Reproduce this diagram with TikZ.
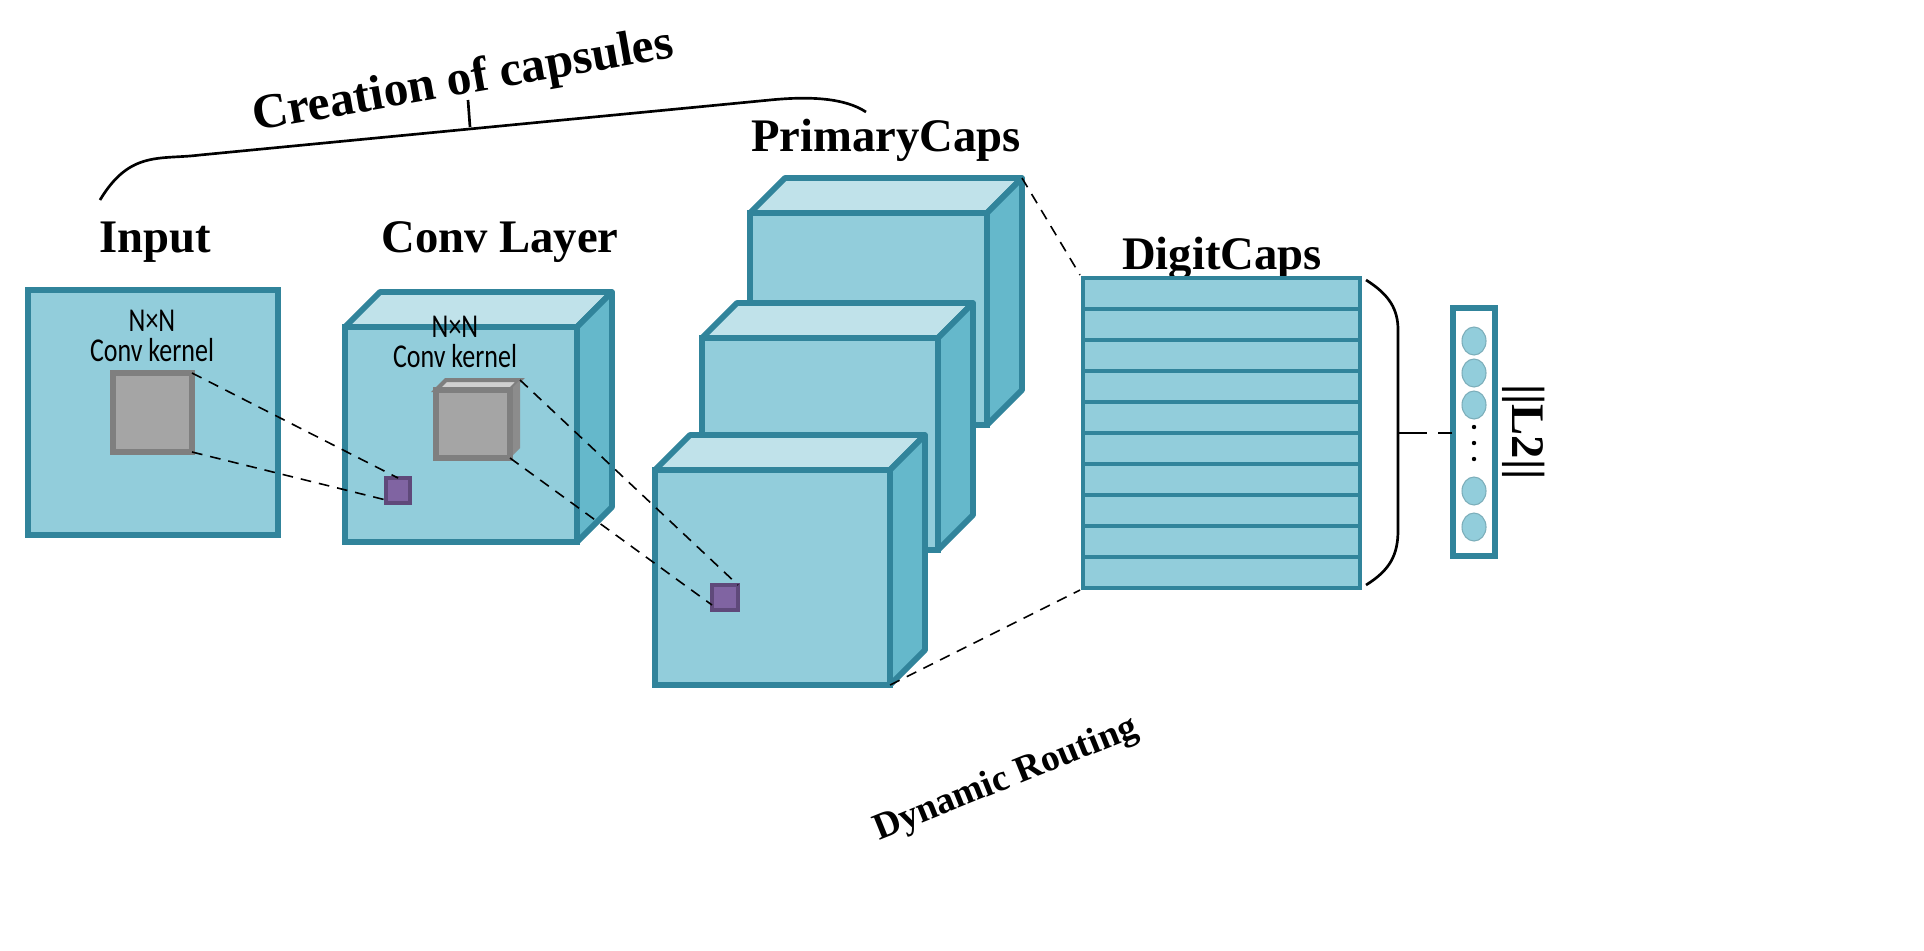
\documentclass[tikz,border=0pt]{standalone}
\usepackage{fontspec}
\setmainfont{Liberation Serif}
\newfontfamily\kfont{Carlito}
\definecolor{cf}{HTML}{92CDDB}
\definecolor{cb}{HTML}{31849B}
\definecolor{ct}{HTML}{C0E2EA}
\definecolor{cs}{HTML}{65B8CB}
\definecolor{gf}{HTML}{A5A5A5}
\definecolor{gb}{HTML}{7F7F7F}
\definecolor{gt}{HTML}{D0D0D0}
\definecolor{pf}{HTML}{8064A2}
\definecolor{pb}{HTML}{5F497A}
\newcommand\mycube[6]{% x1 y1 x2 y2 depth name
  \fill[ct,draw=cb,line width=2.2pt,line join=round] (#1,#2)--(#1+#5,#2-#5)--(#3+#5,#2-#5)--(#3,#2)--cycle;
  \fill[cs,draw=cb,line width=2.2pt,line join=round] (#3,#2)--(#3+#5,#2-#5)--(#3+#5,#4-#5)--(#3,#4)--cycle;
  \fill[cf,draw=cb,line width=2.2pt] (#1,#2) rectangle (#3,#4);
  \coordinate (#6-tr) at (#3+#5,#2-#5);
  \coordinate (#6-br) at (#3,#4);
}
\tikzset{lab/.style={font=\bfseries\fontsize{17.5}{20}\selectfont},
  ktxt/.style={font=\kfont\fontsize{12.5}{13}\selectfont,align=center,xscale=0.78},
  dl/.style={dashed,line width=0.6pt,dash pattern=on 4pt off 3pt}}
\begin{document}
\begin{tikzpicture}[x=0.375pt,y=-0.375pt]
\useasboundingbox (0,0) rectangle (1924,950);
% bracket
\draw[line width=1pt] (100,200) .. controls (130,150) and (160,160) .. (200,155) -- (770,100) .. controls (810,96) and (845,98) .. (866,112);
\draw[line width=1pt] (470,127) -- (468,100);
\node[lab,font=\bfseries\fontsize{18.5}{20}\selectfont,rotate=10] (cc) at (463,82) {Creation of capsules};
% input
\node[lab] (inl) at (155,242) {Input};
\draw[fill=cf,draw=cb,line width=2.4pt] (28,290) rectangle (278,535);
\node[ktxt] (k1) at (152,336) {N×N\\[-2pt]Conv kernel};
\draw[fill=gf,draw=gb,line width=2pt] (113,373) rectangle (192,452);
\coordinate (g1a) at (192,373); \coordinate (g1b) at (192,452);
% conv layer
\node[lab] (cl) at (500,242) {Conv Layer};
\mycube{345}{327}{577}{542}{35}{c1}
\node[ktxt] (k2) at (455,342) {N×N\\[-2pt]Conv kernel};
\fill[gt,draw=gb,line width=1.5pt] (436,390)--(446,380)--(520,380)--(510,390)--cycle;
\fill[gb!90!white] (510,390)--(520,380)--(520,448)--(510,458)--cycle;
\draw[fill=gf,draw=gb,line width=2pt] (436,390) rectangle (510,458);
\coordinate (g2a) at (520,380); \coordinate (g2b) at (510,458);
\draw[fill=pf,draw=pb,line width=1.5pt] (386,478) rectangle (410,503);
\coordinate (p1a) at (398,478); \coordinate (p1b) at (386,500);
\draw[dl] (g1a) -- (p1a);
\draw[dl] (g1b) -- (p1b);
% primary caps
\node[lab] (pc) at (886,140) {PrimaryCaps};
\mycube{750}{213}{987}{425}{35}{q3}
\mycube{702}{338}{938}{550}{35}{q2}
\mycube{655}{470}{890}{685}{35}{q1}
\draw[fill=pf,draw=pb,line width=1.5pt] (712,585) rectangle (738,610);
\coordinate (p2a) at (738,585); \coordinate (p2b) at (712,605);
\draw[dl] (g2a) -- (p2a);
\draw[dl] (g2b) -- (p2b);
% digit caps
\node[lab] (dc) at (1222,258) {DigitCaps};
\draw[fill=cf,draw=cb,line width=1.5pt] (1083,278) rectangle (1360,588);
\foreach \i in {1,...,9} \draw[cb,line width=1.5pt] (1083,278+31*\i) -- (1360,278+31*\i);
\coordinate (d-tl) at (1080,275); \coordinate (d-bl) at (1080,590);
\draw[dl] (q3-tr) -- (d-tl);
\draw[dl] (q1-br) -- (d-bl);
\node[font=\bfseries\fontsize{14}{16}\selectfont,rotate=22] (dr) at (1006,780) {Dynamic Routing};
% brace
\draw[line width=1pt] (1366,280) .. controls (1390,295) and (1398,310) .. (1398,330) -- (1398,530) .. controls (1398,555) and (1390,570) .. (1366,585);
\coordinate (br) at (1398,433);
\draw[fill=white,draw=cb,line width=2pt] (1453,308) rectangle (1495,556);
\coordinate (ob) at (1452,433);
\draw[line width=1pt,dash pattern=on 11pt off 4pt] (br) -- (ob);
\foreach \yy in {341,373,405,491,527} \draw[fill=cf,draw=cf!85!black,line width=0.4pt] (1474,\yy) ellipse (12 and 14);
\foreach \yy in {427,443,459} \fill (1474,\yy) circle (2.2);
\node[lab,rotate=-90] (l2) at (1524,432) {||L2||};
\end{tikzpicture}
\end{document}
